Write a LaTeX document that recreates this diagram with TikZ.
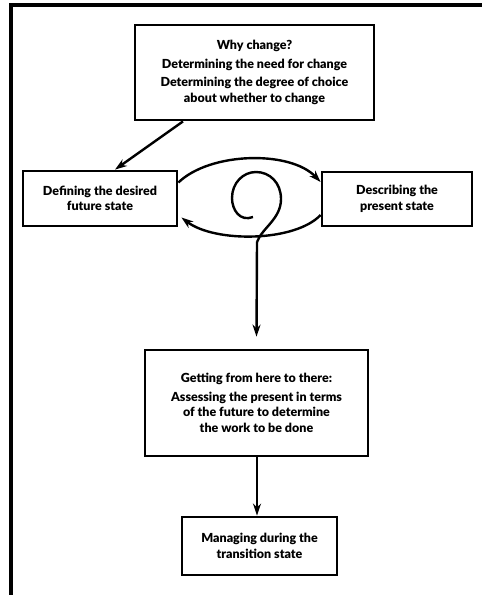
\documentclass[tikz,border=0pt]{standalone}
\usepackage{fontspec}
\setmainfont{Lato}[BoldFont={Lato Black}]
\usetikzlibrary{arrows.meta,calc}
\begin{document}
\begin{tikzpicture}[x=1pt,y=-1pt,
  box/.style={draw,line width=2.8pt,align=center,inner sep=0pt,
    font=\bfseries\fontsize{12.5}{15.5}\selectfont},
  arr/.style={line width=2.4pt,-{Stealth[length=12pt,width=8pt]}},
  link/.style={line width=2.4pt}]
\useasboundingbox (0,0) rectangle (482,595);
% frame
\draw[line width=3.2pt] (11,595) -- (11,5) -- (482,5);

% boxes
\node[box,minimum width=239pt,minimum height=95pt] (why) at (254.5,72.5)
  {Why change?\\[3pt]Determining the need for change\\[3pt]Determining the degree of choice\\about whether to change};
\node[box,minimum width=154pt,minimum height=55pt] (future) at (100,198.5)
  {Defining the desired\\future state};
\node[box,minimum width=150pt,minimum height=54pt] (present) at (397,199)
  {Describing the\\present state};
\node[box,minimum width=223pt,minimum height=106pt] (getting) at (256.5,403)
  {Getting from here to there:\\[3pt]Assessing the present in terms\\of the future to determine\\the work to be done};
\node[box,minimum width=155pt,minimum height=58pt] (managing) at (259.5,546)
  {Managing during the\\transition state};

% connectors
\draw[arr] ([xshift=-71.5pt]why.south) -- ([xshift=15pt]future.north);
\draw[arr] ([yshift=16pt]future.east) .. controls (210,152) and (290,150) .. ([yshift=17pt]present.west);
\draw[arr] ([yshift=-16pt]present.west) .. controls (295,242) and (215,243) .. ([yshift=-19pt,xshift=3pt]future.east);

% spiral running into the downward arrow
\coordinate (sp) at (257,242);
\draw[link] (253,217) .. controls (240,222) and (232,210) .. (232,198)
  .. controls (232,183) and (243,172) .. (256,172)
  .. controls (270,172) and (281,183) .. (281,199)
  .. controls (281,219) and (262,228) .. (sp);
\draw[arr] (sp) -- ([yshift=12pt]getting.north);
\draw[arr] (getting.south -| sp) -- (managing.north -| sp);
\end{tikzpicture}
\end{document}
